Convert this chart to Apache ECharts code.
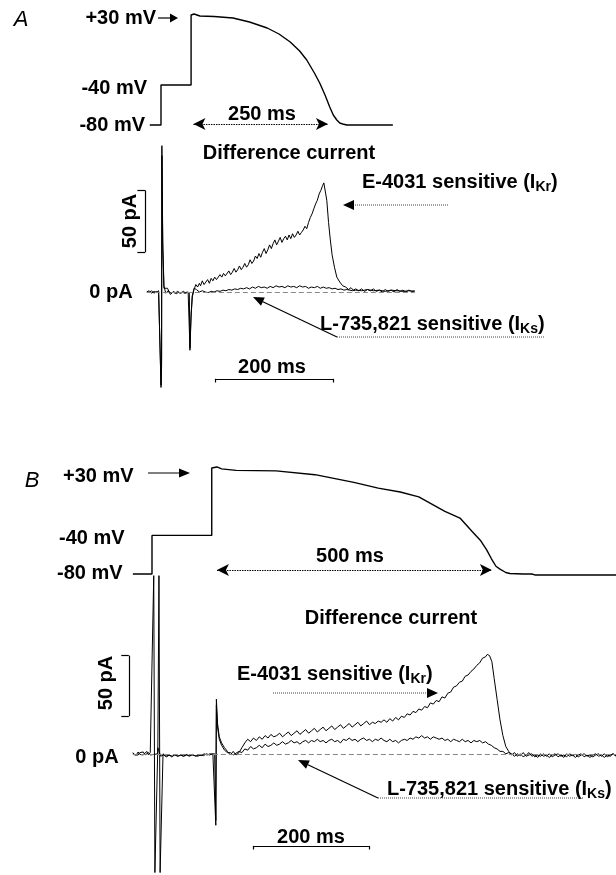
<!DOCTYPE html>
<html>
<head>
<meta charset="utf-8">
<script src="https://cdn.jsdelivr.net/npm/echarts@6/dist/echarts.min.js"></script>
<style>
  html, body { margin: 0; padding: 0; background: #fff; }
  #chart { width: 616px; height: 875px; }
</style>
</head>
<body>
<div id="chart"></div>
<script>
// Panel A: voltage protocol (ms, mV)
const aVolt = [[-19,-80],[0,-80],[0,-40],[51,-40],[51,30],[53,32],[56,31],[66,29],[90,28.5],[122,27],[150,23],[180,17],
    [200,11],[219,3],[235,-6],[247,-15],[260,-28],[269,-38],[278,-50],[286,-62],[292,-70],[298,-75],[303,-78],[308,-79],
    [315,-80],[325,-80],[393,-80]];

// Panel A: difference currents (ms, pA)
const aIKr = [[-24,0],[-20,1],[-16,-1],[-12,0.5],[-8,-0.5],[-4,1],[-1,0],[0,-77],[1,-60],[1.5,118],[3,40],[5,5],[8,-1],
    [12,1],[16,-2],[20,0],[24,-1],[28,0.5],[32,-1],[36,0],[40,-1],[44,0],[48,-1],[49,-47],[51,-20],[53,-4],
    [56,2],[59,6],[62,4],[65,7],[67,5],[70,9],[73,6],[76,8],[79,10],[82,7],[85,11],[88,9],[91,12],[94,10],[97,11],
    [100,14],[103,12],[106,15],[109,13],[112,14],[115,17],[118,14],[121,16],[124,19],[127,16],[130,18],[133,21],[136,18],
    [139,20],[142,23],[145,20],[148,22],[151,26],[154,23],[157,25],[160,29],[163,27],[166,31],[169,28],[172,32],[175,35],
    [178,31],[181,34],[184,38],[187,35],[190,39],[193,42],[196,38],[199,41],[202,44],[205,40],[208,43],[211,45],[214,42],
    [217,46],[220,43],[223,47],[226,44],[229,46],[232,49],[235,46],[238,48],[241,50],[244,53],[247,51],[250,56],[253,60],
    [256,63],[259,67],[262,71],[265,74],[268,79],[271,82],[274,86],[276,88],[278,87],[281,74],[284,56],[287,42],[290,30],
    [294,20],[298,12],[303,8],[308,5],[313,4],[318,2],[322,3.5],[326,1.5],[330,2.5],[335,1],[340,2.5],[345,0.5],[350,2],
    [355,1],[360,2.5],[365,0.5],[370,1.5],[375,0],[380,2],[385,0.5],[390,1.5],[395,0],[400,2],[405,0.5],[410,1.5],
    [415,0],[420,1.5],[425,0.5],[430,1]];
const aIKs = [[-24,0.5],[-20,-0.5],[-16,1],[-12,-1],[-8,0.5],[-4,-1],[-1,0],[0,-75],[1,-55],[1.5,110],[3,35],[5,3],[8,2],
    [11,3],[14,0],[18,-1],[22,0.5],[26,-1.5],[30,0],[34,-1],[38,0.5],[42,-1],[46,0],[48,-0.5],[49,-45],[51,-18],[53,-3],
    [56,3],[60,2],[65,0],[70,1],[75,0],[80,-0.5],[85,0.5],[90,0],[95,1],[100,0.5],[105,1.5],[110,1],[115,2],[120,1.5],
    [125,2.5],[130,2],[135,3],[140,2.5],[145,3.5],[150,2.5],[155,4],[160,3],[165,4.5],[170,3.5],[175,4],[180,3],[185,4.5],
    [190,3.5],[195,5],[200,4],[205,4.5],[210,3.5],[215,5],[220,4],[225,4.5],[230,3.5],[235,5],[240,4],[245,4.5],[250,3],
    [255,4],[260,3.5],[265,4.5],[270,3],[275,4],[280,3],[285,3.5],[290,2.5],[295,3],[300,2],[305,2.5],[310,1.5],[315,2],
    [320,1.5],[325,1],[330,1.5],[340,1],[350,2],[360,1],[370,1.5],[380,0.5],[390,1.5],[400,1],[410,0.5],[420,1],[430,0.5]];

// Panel B: voltage protocol
const bVolt = [[-33,-80],[0,-80],[0,-40],[103,-40],[103,30],[106,31],[112,31],[120,29],[145,27.5],[214,27],[281,23],
    [348,15],[390,9],[428,5],[460,0],[484,-8],[505,-15],[531,-22],[552,-36],[566,-45],[577,-55],[585,-64],[593,-72],
    [600,-75],[610,-78.5],[617,-79.5],[640,-80],[655,-80],[660,-81],[800,-81]];

// Panel B: difference currents
const bIKr = [[-33,0],[-30,1],[-27,-1],[-24,1.5],[-21,-0.5],[-18,1],[-15,-1],[-12,0.5],[-9,2],[-6,-1],[-3,1],[0,0],
    [3,147],[5,-98],[8,-98],[10,5],[15,-2],[20,-1],[25,-2.5],[30,-1],[35,-2],[40,-0.5],[45,-2],[50,-1],[55,-2],[60,-1],
    [65,-1.5],[70,-0.5],[75,-2],[80,-1],[85,-1.5],[90,0],[95,-1],[100,0],[105,-0.5],[108,0],[110,-59],[111,45],[113,25],
    [116,14],[120,9],[125,5],[130,2],[135,-1],[140,2],[145,-1],
    [150,1],[155,5],[160,9],[165,12],[170,10],[175,13],[180,11],[185,14],[190,12],[195,15],[200,13],[205,16],[210,14],
    [215,15],[220,17],[225,14],[230,16],[235,18],[240,15],[245,17],[250,19],[255,16],[260,18],[265,20],[270,17],[275,19],
    [280,21],[285,18],[290,20],[295,22],[300,19],[305,21],[310,23],[315,20],[320,22],[325,24],[330,21],[335,23],[340,25],
    [345,22],[350,24],[355,26],[360,23],[365,25],[370,27],[375,24],[380,26],[385,25],[390,27],[395,26],[400,28],[405,26],
    [410,29],[415,27],[420,30],[425,28],[430,31],[435,30],[440,33],[445,32],[450,35],[455,34],[460,37],[465,36],[470,39],
    [475,38],[480,42],[485,41],[490,44],[495,43],[500,47],[505,46],[510,50],[515,51],[520,55],[525,56],[530,59],[535,60],
    [540,64],[545,65],[550,68],[555,70],[560,73],[565,75],[570,79],[575,80],[578,82],[582,81],[586,76],[590,62],[595,45],
    [600,28],[605,15],[610,6],[615,2],
    [620,-1],[625,1],[630,-2],[635,0],[640,-2.5],[645,-1],[650,1],[655,-2],[660,-1],[665,-3],[670,0],[675,-2],[680,-1],
    [685,-3],[690,-1],[695,0],[700,-2.5],[705,-1],[710,-3],[715,0],[720,-2],[725,-1],[730,-3],[735,-1],[740,0],
    [745,-2.5],[750,-1],[755,-3],[760,-1],[765,0],[770,-2],[775,-1],[780,-3],[785,-1],[790,-2],[795,0],[800,-2]];
const bIKs = [[-33,1],[-30,-1],[-27,0.5],[-24,-1],[-21,1],[-18,-0.5],[-15,1.5],[-12,-1],[-9,0],[-6,1],[-3,-1],[0,0],
    [10,0],[12,147],[14,-98],[17,-98],[19,0],[24,-2],[29,-1],[34,-2.5],[39,-1],[44,-2],[49,-1],[54,-2],[59,-0.5],[64,-2],
    [69,-1],[74,-1.5],[79,-2],[84,-1],[89,-1.5],[94,0],[99,-1],[104,0],[108,0],[110,-55],[111,40],[113,22],[116,12],
    [120,7],[125,3],[130,1],[135,1],[140,-1],[150,2],
    [155,1],[160,4],[165,3],[170,6],[175,4],[180,5],[185,7],[190,5],[195,8],[200,6],[205,7],[210,9],[215,7],[220,8],
    [225,10],[230,8],[235,9],[240,11],[245,9],[250,10],[255,8],[260,10],[265,11],[270,9],[275,11],[280,10],[285,12],
    [290,10],[295,11],[300,9],[305,11],[310,12],[315,10],[320,11],[325,9],[330,12],[335,11],[340,13],[345,11],[350,12],
    [355,10],[360,12],[365,13],[370,11],[375,12],[380,10],[385,12],[390,11],[395,13],[400,11],[405,10],[410,12],[415,10],
    [420,11],[425,9],[430,11],[435,12],[440,11],[445,13],[450,12],[455,14],[460,13],[465,15],[470,13],[475,14],[480,12],
    [485,14],[490,13],[495,12],[500,13],[505,11],[510,12],[515,10],[520,12],[525,11],[530,10],[535,12],[540,10],[545,11],
    [550,9],[555,11],[560,10],[565,11],[570,9],[575,10],[580,8],[585,7],[590,5],[595,4],[600,2],[605,2],[610,0],[615,1],
    [620,0],[625,-2],[630,0],[635,-1.5],[640,1],[645,-2],[650,-1],[655,0],[660,-2.5],[665,-1],[670,-2],[675,0],[680,-2],
    [685,0],[690,-2.5],[695,-1],[700,0],[705,-2],[710,-1],[715,-2.5],[720,0],[725,-1.5],[730,-0.5],[735,-2.5],[740,-1],
    [745,0],[750,-2],[755,-1],[760,-2.5],[765,-1],[770,0],[775,-2],[780,0],[785,-2.5],[790,-1],[795,0],[800,-1.5]];

// scale bars (ms / pA)
const aBar50 = [32, 82];
const aBar200 = [92, 292];
const bBar50 = [31, 81];
const bBar200 = [174, 374];

const FONT = '"Liberation Sans", Arial, Helvetica, sans-serif';
const bold20 = `bold 20px ${FONT}`;

function trace(name, data, xi, yi, w, extra) {
    return Object.assign({
        name: name,
        type: 'line',
        xAxisIndex: xi,
        yAxisIndex: yi,
        data: data,
        showSymbol: false,
        symbol: 'none',
        silent: true,
        clip: false,
        lineStyle: { color: '#000', width: w },
    }, extra || {});
}

// markLine helpers (data coordinates)
function seg(x1, y1, x2, y2) {
    return [{ coord: [x1, y1] }, { coord: [x2, y2] }];
}

function scaleMarks(zeroFrom, zeroTo, bar50x, tickX, bar50, bar200, yBar) {
    return {
        silent: true,
        symbol: 'none',
        label: { show: false },
        lineStyle: { color: '#000', width: 1.2, type: 'solid' },
        data: [
            [{ coord: [zeroFrom, 0], lineStyle: { color: '#888', type: [5, 3], width: 1 } }, { coord: [zeroTo, 0] }],
            seg(bar50x, bar50[0], bar50x, bar50[1]),
            seg(tickX, bar50[0], bar50x, bar50[0]),
            seg(tickX, bar50[1], bar50x, bar50[1]),
            seg(bar200[0], yBar, bar200[1], yBar),
            seg(bar200[0], yBar, bar200[0], yBar - 3),
            seg(bar200[1], yBar, bar200[1], yBar - 3),
        ]
    };
}

function spanArrow(x1, x2, y) {
    return {
        silent: true,
        symbol: ['arrow', 'arrow'],
        symbolSize: [9, 12],
        label: { show: false },
        lineStyle: { color: '#000', width: 1, type: [1.5, 1] },
        data: [seg(x1, y, x2, y)]
    };
}

// ---- annotations (pixels) ----
function txt(x, y, str, align, font, extra) {
    return Object.assign({
        type: 'text', x: x, y: y, silent: true,
        style: { text: str, font: font || bold20, fill: '#000', align: align || 'left', verticalAlign: 'middle' }
    }, extra || {});
}
function subTxt(x, y, main, sub) {
    return {
        type: 'text', x: x, y: y, silent: true,
        style: {
            text: `{t|${main}}{s|${sub}}{t|)}`,
            align: 'left', verticalAlign: 'middle',
            rich: {
                t: { font: bold20, fill: '#000', lineHeight: 24, verticalAlign: 'bottom' },
                s: { font: `bold 14px ${FONT}`, fill: '#000', lineHeight: 24, verticalAlign: 'bottom', padding: [0, 0, -2, 0] }
            }
        }
    };
}
function ln(x1, y1, x2, y2, dotted) {
    return {
        type: 'line', silent: true,
        shape: { x1: x1, y1: y1, x2: x2, y2: y2 },
        style: { stroke: dotted ? '#444' : '#000', lineWidth: dotted ? 1 : 1.2, lineDash: dotted ? [1, 1] : null }
    };
}
function head(pts) {
    return { type: 'polygon', silent: true, shape: { points: pts }, style: { fill: '#000' } };
}

const graphics = [
    // panel A
    txt(21, 20, 'A', 'center', `italic 22px ${FONT}`),
    txt(156, 18, '+30 mV', 'right'),
    ln(158, 18, 171, 18), head([[178, 18], [170, 13.5], [170, 22.5]]),
    txt(147, 88, '-40 mV', 'right'),
    txt(145, 125, '-80 mV', 'right'),
    txt(262, 114, '250 ms', 'center'),
    txt(289, 153, 'Difference current', 'center'),
    subTxt(362, 180, 'E-4031 sensitive (I', 'Kr'),
    ln(353, 205, 448, 205, true), head([[343, 205], [354, 200], [354, 210]]),
    txt(130, 221, '50 pA', 'center', null, { rotation: Math.PI / 2 }),
    txt(111, 292, '0 pA', 'center'),
    subTxt(320, 322, 'L-735,821 sensitive (I', 'Ks'),
    ln(337, 337, 545, 337, true),
    ln(262.9, 301.7, 337, 337), head([[253, 297], [264.8, 297.6], [261, 305.8]]),
    txt(272, 367, '200 ms', 'center'),

    // panel B
    txt(32, 481, 'B', 'center', `italic 22px ${FONT}`),
    txt(63, 476, '+30 mV', 'left'),
    ln(148, 473, 181, 473), head([[190, 473], [179, 468.5], [179, 477.5]]),
    txt(59, 538, '-40 mV', 'left'),
    txt(57, 573, '-80 mV', 'left'),
    txt(350, 556, '500 ms', 'center'),
    txt(391, 618, 'Difference current', 'center'),
    txt(106, 683, '50 pA', 'center', null, { rotation: Math.PI / 2 }),
    subTxt(237, 672, 'E-4031 sensitive (I', 'Kr'),
    ln(273, 693, 428, 693, true), head([[438, 693], [427, 688], [427, 698]]),
    txt(97, 757, '0 pA', 'center'),
    subTxt(387, 787, 'L-735,821 sensitive (I', 'Ks'),
    ln(378, 798, 583, 798, true),
    ln(307.9, 764.7, 378, 798), head([[298, 760], [309.8, 760.6], [306, 768.8]]),
    txt(311, 837, '200 ms', 'center'),
];

const hidden = { show: false, splitLine: { show: false } };
function xAx(gi, min, max) { return Object.assign({ type: 'value', gridIndex: gi, min: min, max: max }, hidden); }
function yAx(gi, min, max) { return Object.assign({ type: 'value', gridIndex: gi, min: min, max: max }, hidden); }

const option = {
    backgroundColor: '#fff',
    animation: false,
    grid: [
        { left: 134.45, width: 280.25, top: 5, height: 130 },      // A voltage
        { left: 134.45, width: 280.25, top: 143.2, height: 248 },  // A current
        { left: 120.1, width: 495.9, top: 458.3, height: 125.3 },  // B voltage
        { left: 120.1, width: 495.9, top: 572, height: 305 },      // B current
    ],
    xAxis: [xAx(0, -45, 430), xAx(1, -45, 430), xAx(2, -55, 800), xAx(3, -55, 800)],
    yAxis: [yAx(0, -90, 40), yAx(1, -80, 120), yAx(2, -90, 40), yAx(3, -100, 150)],
    series: [
        trace('A voltage', aVolt, 0, 0, 1.4, { markLine: spanArrow(55, 283, -79) }),
        trace('A IKr', aIKr, 1, 1, 1, { markLine: scaleMarks(-24, 430, -27, -40, aBar50, aBar200, -70) }),
        trace('A IKs', aIKs, 1, 1, 1),
        trace('B voltage', bVolt, 2, 2, 1.4, { markLine: spanArrow(112, 586, -76) }),
        trace('B IKr', bIKr, 3, 3, 1, { markLine: scaleMarks(-33, 800, -40, -53, bBar50, bBar200, -76) }),
        trace('B IKs', bIKs, 3, 3, 1),
    ],
    graphic: graphics
};

const chart = echarts.init(document.getElementById('chart'), null, { renderer: 'canvas' });
chart.setOption(option);
</script>
</body>
</html>
